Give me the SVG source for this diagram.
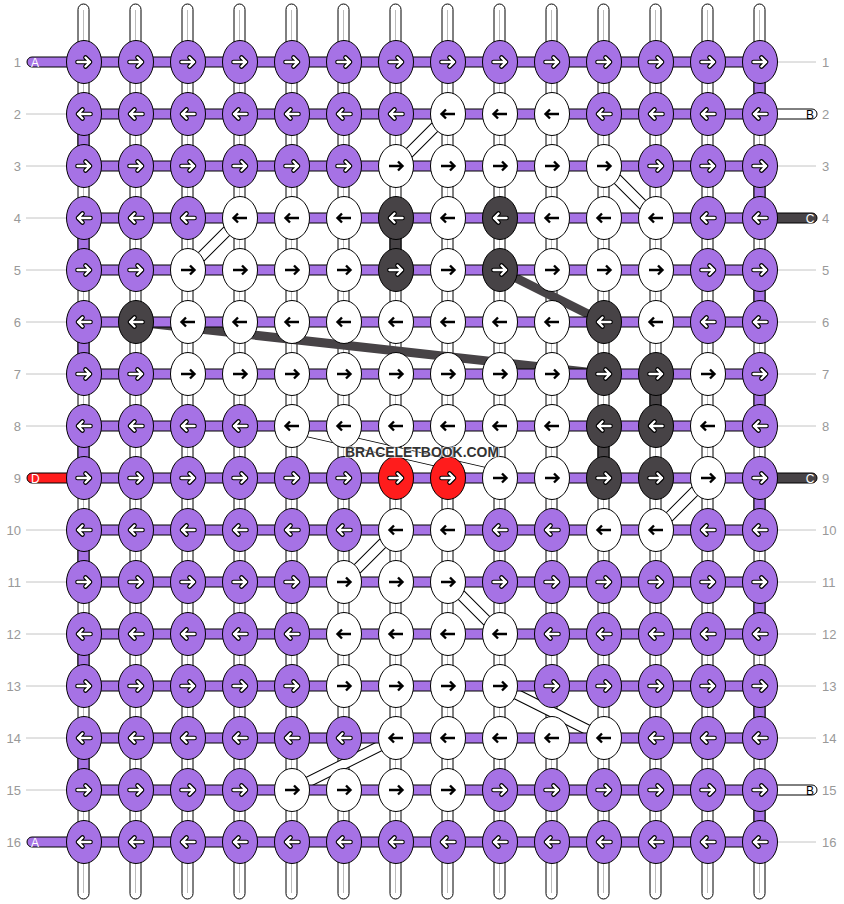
<svg xmlns="http://www.w3.org/2000/svg" width="844" height="904" viewBox="0 0 844 904">
<style>
.vs{fill:#fff;stroke:#000;stroke-width:1}
.vc{stroke:#bbb;stroke-width:1}
.hb{fill:#a672e5;stroke:#000;stroke-width:1}
.wp{fill:#a672e5;stroke:#000;stroke-width:1}
.wk{fill:#474346;stroke:#000;stroke-width:1}
.bo{stroke:#000;stroke-width:11;fill:none}
.bi{stroke:#fff;stroke-width:9;fill:none}
.dk{stroke:#474346;stroke-width:9;fill:none}
ellipse{stroke:#000;stroke-width:1}
.P{fill:#a672e5}.W{fill:#fff}.K{fill:#474346}.R{fill:#ff1c1c}
.ao{stroke:#000;stroke-width:4.6;fill:none;stroke-linecap:round;stroke-linejoin:round}
.ai{stroke:#fff;stroke-width:2.4;fill:none;stroke-linecap:round;stroke-linejoin:round}
.ab{stroke:#000;stroke-width:2.4;fill:none;stroke-linejoin:miter}
.num{font-family:"Liberation Sans",Arial,sans-serif;font-size:13px;fill:#999}
.gl{stroke:#c4c4c4;stroke-width:1}
.lab{font-family:"Liberation Sans",Arial,sans-serif;font-size:12px}
</style>
<defs>
<g id="wr"><path class="ao" d="M-6.5,0H6M1.5,-4.5L6,0L1.5,4.5"/><path class="ai" d="M-6.5,0H6M1.5,-4.5L6,0L1.5,4.5"/></g>
<g id="wl"><path class="ao" d="M6.5,0H-6M-1.5,-4.5L-6,0L-1.5,4.5"/><path class="ai" d="M6.5,0H-6M-1.5,-4.5L-6,0L-1.5,4.5"/></g>
<path id="br" class="ab" d="M-7,0H6.5M2,-4.5L6.5,0L2,4.5"/>
<path id="bl" class="ab" d="M7,0H-6.5M-2,-4.5L-6.5,0L-2,4.5"/>
</defs>
<rect width="844" height="904" fill="#fff"/>
<g id="vertical-strings">
<rect class="vs" x="78" y="4" width="11" height="895" rx="5.5"/><line class="vc" x1="83.5" y1="10" x2="83.5" y2="893"/>
<rect class="vs" x="130" y="4" width="11" height="895" rx="5.5"/><line class="vc" x1="135.5" y1="10" x2="135.5" y2="893"/>
<rect class="vs" x="182" y="4" width="11" height="895" rx="5.5"/><line class="vc" x1="187.5" y1="10" x2="187.5" y2="893"/>
<rect class="vs" x="234" y="4" width="11" height="895" rx="5.5"/><line class="vc" x1="239.5" y1="10" x2="239.5" y2="893"/>
<rect class="vs" x="286" y="4" width="11" height="895" rx="5.5"/><line class="vc" x1="291.5" y1="10" x2="291.5" y2="893"/>
<rect class="vs" x="338" y="4" width="11" height="895" rx="5.5"/><line class="vc" x1="343.5" y1="10" x2="343.5" y2="893"/>
<rect class="vs" x="390" y="4" width="11" height="895" rx="5.5"/><line class="vc" x1="395.5" y1="10" x2="395.5" y2="893"/>
<rect class="vs" x="442" y="4" width="11" height="895" rx="5.5"/><line class="vc" x1="447.5" y1="10" x2="447.5" y2="893"/>
<rect class="vs" x="494" y="4" width="11" height="895" rx="5.5"/><line class="vc" x1="499.5" y1="10" x2="499.5" y2="893"/>
<rect class="vs" x="546" y="4" width="11" height="895" rx="5.5"/><line class="vc" x1="551.5" y1="10" x2="551.5" y2="893"/>
<rect class="vs" x="598" y="4" width="11" height="895" rx="5.5"/><line class="vc" x1="603.5" y1="10" x2="603.5" y2="893"/>
<rect class="vs" x="650" y="4" width="11" height="895" rx="5.5"/><line class="vc" x1="655.5" y1="10" x2="655.5" y2="893"/>
<rect class="vs" x="702" y="4" width="11" height="895" rx="5.5"/><line class="vc" x1="707.5" y1="10" x2="707.5" y2="893"/>
<rect class="vs" x="754" y="4" width="11" height="895" rx="5.5"/><line class="vc" x1="759.5" y1="10" x2="759.5" y2="893"/>
</g>
<g id="connectors">
<g id="white-links">
<path class="bo" d="M448,114L396,166M604,166L656,218M240,218L188,270M300,430L492,474M708,478L656,530M396,530L344,582M448,582L500,634M500,686L604,738M396,738L292,790"/>
<path class="bi" d="M448,114L396,166M604,166L656,218M240,218L188,270M300,430L492,474M708,478L656,530M396,530L344,582M448,582L500,634M500,686L604,738M396,738L292,790"/>
</g>
<path id="dark-links" class="dk" d="M500,270L604,322M136,322L604,374"/>
<g id="row-strings">
<rect class="hb" x="84" y="57" width="676" height="10"/>
<rect class="hb" x="84" y="109" width="676" height="10"/>
<rect class="hb" x="84" y="161" width="676" height="10"/>
<rect class="hb" x="84" y="213" width="676" height="10"/>
<rect class="hb" x="84" y="265" width="676" height="10"/>
<rect class="hb" x="84" y="317" width="676" height="10"/>
<rect class="hb" x="84" y="369" width="676" height="10"/>
<rect class="hb" x="84" y="421" width="676" height="10"/>
<rect class="hb" x="84" y="473" width="676" height="10"/>
<rect class="hb" x="84" y="525" width="676" height="10"/>
<rect class="hb" x="84" y="577" width="676" height="10"/>
<rect class="hb" x="84" y="629" width="676" height="10"/>
<rect class="hb" x="84" y="681" width="676" height="10"/>
<rect class="hb" x="84" y="733" width="676" height="10"/>
<rect class="hb" x="84" y="785" width="676" height="10"/>
<rect class="hb" x="84" y="837" width="676" height="10"/>
</g>
<g id="turns">
<rect class="wp" x="754" y="62" width="11" height="52"/>
<rect class="wp" x="754" y="166" width="11" height="52"/>
<rect class="wp" x="754" y="270" width="11" height="52"/>
<rect class="wp" x="754" y="374" width="11" height="52"/>
<rect class="wp" x="754" y="478" width="11" height="52"/>
<rect class="wp" x="754" y="582" width="11" height="52"/>
<rect class="wp" x="754" y="686" width="11" height="52"/>
<rect class="wp" x="754" y="790" width="11" height="52"/>
<rect class="wp" x="78" y="114" width="11" height="52"/>
<rect class="wp" x="78" y="218" width="11" height="52"/>
<rect class="wp" x="78" y="322" width="11" height="52"/>
<rect class="wp" x="78" y="426" width="11" height="52"/>
<rect class="wp" x="78" y="530" width="11" height="52"/>
<rect class="wp" x="78" y="634" width="11" height="52"/>
<rect class="wp" x="78" y="738" width="11" height="52"/>
<rect class="wk" x="390" y="218" width="11" height="52"/>
<rect class="wk" x="650" y="374" width="11" height="52"/>
<rect class="wk" x="598" y="426" width="11" height="52"/>
</g>
<g id="ends">
<path d="M70,57H32a5,5 0 0 0 0,10H70z" fill="#a672e5" stroke="#000"/>
<path d="M70,473H32a5,5 0 0 0 0,10H70z" fill="#ff1c1c" stroke="#000"/>
<path d="M70,837H32a5,5 0 0 0 0,10H70z" fill="#a672e5" stroke="#000"/>
<path d="M774,109H812a5,5 0 0 1 0,10H774z" fill="#fff" stroke="#000"/>
<path d="M774,213H812a5,5 0 0 1 0,10H774z" fill="#474346" stroke="#000"/>
<path d="M774,473H812a5,5 0 0 1 0,10H774z" fill="#474346" stroke="#000"/>
<path d="M774,785H812a5,5 0 0 1 0,10H774z" fill="#fff" stroke="#000"/>
<text class="lab" x="31" y="66.5" fill="#fff">A</text>
<text class="lab" x="31" y="482.5" fill="#fff">D</text>
<text class="lab" x="31" y="846.5" fill="#fff">A</text>
<text class="lab" x="810" y="118.5" text-anchor="middle" fill="#000">B</text>
<text class="lab" x="810" y="222.5" text-anchor="middle" fill="#fff">C</text>
<text class="lab" x="810" y="482.5" text-anchor="middle" fill="#fff">C</text>
<text class="lab" x="810" y="794.5" text-anchor="middle" fill="#000">B</text>
</g>
</g>
<g id="row-labels">
<path class="gl" d="M26,114H66M26,166H66M26,218H66M26,270H66M26,322H66M26,374H66M26,426H66M26,530H66M26,582H66M26,634H66M26,686H66M26,738H66M26,790H66"/>
<path class="gl" d="M778,62H816M778,166H816M778,270H816M778,322H816M778,374H816M778,426H816M778,530H816M778,582H816M778,634H816M778,686H816M778,738H816M778,842H816"/>
<g class="num" text-anchor="end">
<text x="21" y="67">1</text><text x="21" y="119">2</text><text x="21" y="171">3</text><text x="21" y="223">4</text><text x="21" y="275">5</text><text x="21" y="327">6</text><text x="21" y="379">7</text><text x="21" y="431">8</text><text x="21" y="483">9</text><text x="21" y="535">10</text><text x="21" y="587">11</text><text x="21" y="639">12</text><text x="21" y="691">13</text><text x="21" y="743">14</text><text x="21" y="795">15</text><text x="21" y="847">16</text>
</g>
<g class="num">
<text x="822" y="67">1</text><text x="822" y="119">2</text><text x="822" y="171">3</text><text x="822" y="223">4</text><text x="822" y="275">5</text><text x="822" y="327">6</text><text x="822" y="379">7</text><text x="822" y="431">8</text><text x="822" y="483">9</text><text x="822" y="535">10</text><text x="822" y="587">11</text><text x="822" y="639">12</text><text x="822" y="691">13</text><text x="822" y="743">14</text><text x="822" y="795">15</text><text x="822" y="847">16</text>
</g>
</g>
<g id="nodes">
<g id="n1-1"><ellipse class="P" cx="84" cy="62" rx="17.5" ry="21.5"/><use href="#wr" x="84" y="62"/></g>
<g id="n1-2"><ellipse class="P" cx="136" cy="62" rx="17.5" ry="21.5"/><use href="#wr" x="136" y="62"/></g>
<g id="n1-3"><ellipse class="P" cx="188" cy="62" rx="17.5" ry="21.5"/><use href="#wr" x="188" y="62"/></g>
<g id="n1-4"><ellipse class="P" cx="240" cy="62" rx="17.5" ry="21.5"/><use href="#wr" x="240" y="62"/></g>
<g id="n1-5"><ellipse class="P" cx="292" cy="62" rx="17.5" ry="21.5"/><use href="#wr" x="292" y="62"/></g>
<g id="n1-6"><ellipse class="P" cx="344" cy="62" rx="17.5" ry="21.5"/><use href="#wr" x="344" y="62"/></g>
<g id="n1-7"><ellipse class="P" cx="396" cy="62" rx="17.5" ry="21.5"/><use href="#wr" x="396" y="62"/></g>
<g id="n1-8"><ellipse class="P" cx="448" cy="62" rx="17.5" ry="21.5"/><use href="#wr" x="448" y="62"/></g>
<g id="n1-9"><ellipse class="P" cx="500" cy="62" rx="17.5" ry="21.5"/><use href="#wr" x="500" y="62"/></g>
<g id="n1-10"><ellipse class="P" cx="552" cy="62" rx="17.5" ry="21.5"/><use href="#wr" x="552" y="62"/></g>
<g id="n1-11"><ellipse class="P" cx="604" cy="62" rx="17.5" ry="21.5"/><use href="#wr" x="604" y="62"/></g>
<g id="n1-12"><ellipse class="P" cx="656" cy="62" rx="17.5" ry="21.5"/><use href="#wr" x="656" y="62"/></g>
<g id="n1-13"><ellipse class="P" cx="708" cy="62" rx="17.5" ry="21.5"/><use href="#wr" x="708" y="62"/></g>
<g id="n1-14"><ellipse class="P" cx="760" cy="62" rx="17.5" ry="21.5"/><use href="#wr" x="760" y="62"/></g>

<g id="n2-1"><ellipse class="P" cx="84" cy="114" rx="17.5" ry="21.5"/><use href="#wl" x="84" y="114"/></g>
<g id="n2-2"><ellipse class="P" cx="136" cy="114" rx="17.5" ry="21.5"/><use href="#wl" x="136" y="114"/></g>
<g id="n2-3"><ellipse class="P" cx="188" cy="114" rx="17.5" ry="21.5"/><use href="#wl" x="188" y="114"/></g>
<g id="n2-4"><ellipse class="P" cx="240" cy="114" rx="17.5" ry="21.5"/><use href="#wl" x="240" y="114"/></g>
<g id="n2-5"><ellipse class="P" cx="292" cy="114" rx="17.5" ry="21.5"/><use href="#wl" x="292" y="114"/></g>
<g id="n2-6"><ellipse class="P" cx="344" cy="114" rx="17.5" ry="21.5"/><use href="#wl" x="344" y="114"/></g>
<g id="n2-7"><ellipse class="P" cx="396" cy="114" rx="17.5" ry="21.5"/><use href="#wl" x="396" y="114"/></g>
<g id="n2-8"><ellipse class="W" cx="448" cy="114" rx="17.5" ry="21.5"/><use href="#bl" x="448" y="114"/></g>
<g id="n2-9"><ellipse class="W" cx="500" cy="114" rx="17.5" ry="21.5"/><use href="#bl" x="500" y="114"/></g>
<g id="n2-10"><ellipse class="W" cx="552" cy="114" rx="17.5" ry="21.5"/><use href="#bl" x="552" y="114"/></g>
<g id="n2-11"><ellipse class="P" cx="604" cy="114" rx="17.5" ry="21.5"/><use href="#wl" x="604" y="114"/></g>
<g id="n2-12"><ellipse class="P" cx="656" cy="114" rx="17.5" ry="21.5"/><use href="#wl" x="656" y="114"/></g>
<g id="n2-13"><ellipse class="P" cx="708" cy="114" rx="17.5" ry="21.5"/><use href="#wl" x="708" y="114"/></g>
<g id="n2-14"><ellipse class="P" cx="760" cy="114" rx="17.5" ry="21.5"/><use href="#wl" x="760" y="114"/></g>

<g id="n3-1"><ellipse class="P" cx="84" cy="166" rx="17.5" ry="21.5"/><use href="#wr" x="84" y="166"/></g>
<g id="n3-2"><ellipse class="P" cx="136" cy="166" rx="17.5" ry="21.5"/><use href="#wr" x="136" y="166"/></g>
<g id="n3-3"><ellipse class="P" cx="188" cy="166" rx="17.5" ry="21.5"/><use href="#wr" x="188" y="166"/></g>
<g id="n3-4"><ellipse class="P" cx="240" cy="166" rx="17.5" ry="21.5"/><use href="#wr" x="240" y="166"/></g>
<g id="n3-5"><ellipse class="P" cx="292" cy="166" rx="17.5" ry="21.5"/><use href="#wr" x="292" y="166"/></g>
<g id="n3-6"><ellipse class="P" cx="344" cy="166" rx="17.5" ry="21.5"/><use href="#wr" x="344" y="166"/></g>
<g id="n3-7"><ellipse class="W" cx="396" cy="166" rx="17.5" ry="21.5"/><use href="#br" x="396" y="166"/></g>
<g id="n3-8"><ellipse class="W" cx="448" cy="166" rx="17.5" ry="21.5"/><use href="#br" x="448" y="166"/></g>
<g id="n3-9"><ellipse class="W" cx="500" cy="166" rx="17.5" ry="21.5"/><use href="#br" x="500" y="166"/></g>
<g id="n3-10"><ellipse class="W" cx="552" cy="166" rx="17.5" ry="21.5"/><use href="#br" x="552" y="166"/></g>
<g id="n3-11"><ellipse class="W" cx="604" cy="166" rx="17.5" ry="21.5"/><use href="#br" x="604" y="166"/></g>
<g id="n3-12"><ellipse class="P" cx="656" cy="166" rx="17.5" ry="21.5"/><use href="#wr" x="656" y="166"/></g>
<g id="n3-13"><ellipse class="P" cx="708" cy="166" rx="17.5" ry="21.5"/><use href="#wr" x="708" y="166"/></g>
<g id="n3-14"><ellipse class="P" cx="760" cy="166" rx="17.5" ry="21.5"/><use href="#wr" x="760" y="166"/></g>

<g id="n4-1"><ellipse class="P" cx="84" cy="218" rx="17.5" ry="21.5"/><use href="#wl" x="84" y="218"/></g>
<g id="n4-2"><ellipse class="P" cx="136" cy="218" rx="17.5" ry="21.5"/><use href="#wl" x="136" y="218"/></g>
<g id="n4-3"><ellipse class="P" cx="188" cy="218" rx="17.5" ry="21.5"/><use href="#wl" x="188" y="218"/></g>
<g id="n4-4"><ellipse class="W" cx="240" cy="218" rx="17.5" ry="21.5"/><use href="#bl" x="240" y="218"/></g>
<g id="n4-5"><ellipse class="W" cx="292" cy="218" rx="17.5" ry="21.5"/><use href="#bl" x="292" y="218"/></g>
<g id="n4-6"><ellipse class="W" cx="344" cy="218" rx="17.5" ry="21.5"/><use href="#bl" x="344" y="218"/></g>
<g id="n4-7"><ellipse class="K" cx="396" cy="218" rx="17.5" ry="21.5"/><use href="#wl" x="396" y="218"/></g>
<g id="n4-8"><ellipse class="W" cx="448" cy="218" rx="17.5" ry="21.5"/><use href="#bl" x="448" y="218"/></g>
<g id="n4-9"><ellipse class="K" cx="500" cy="218" rx="17.5" ry="21.5"/><use href="#wl" x="500" y="218"/></g>
<g id="n4-10"><ellipse class="W" cx="552" cy="218" rx="17.5" ry="21.5"/><use href="#bl" x="552" y="218"/></g>
<g id="n4-11"><ellipse class="W" cx="604" cy="218" rx="17.5" ry="21.5"/><use href="#bl" x="604" y="218"/></g>
<g id="n4-12"><ellipse class="W" cx="656" cy="218" rx="17.5" ry="21.5"/><use href="#bl" x="656" y="218"/></g>
<g id="n4-13"><ellipse class="P" cx="708" cy="218" rx="17.5" ry="21.5"/><use href="#wl" x="708" y="218"/></g>
<g id="n4-14"><ellipse class="P" cx="760" cy="218" rx="17.5" ry="21.5"/><use href="#wl" x="760" y="218"/></g>

<g id="n5-1"><ellipse class="P" cx="84" cy="270" rx="17.5" ry="21.5"/><use href="#wr" x="84" y="270"/></g>
<g id="n5-2"><ellipse class="P" cx="136" cy="270" rx="17.5" ry="21.5"/><use href="#wr" x="136" y="270"/></g>
<g id="n5-3"><ellipse class="W" cx="188" cy="270" rx="17.5" ry="21.5"/><use href="#br" x="188" y="270"/></g>
<g id="n5-4"><ellipse class="W" cx="240" cy="270" rx="17.5" ry="21.5"/><use href="#br" x="240" y="270"/></g>
<g id="n5-5"><ellipse class="W" cx="292" cy="270" rx="17.5" ry="21.5"/><use href="#br" x="292" y="270"/></g>
<g id="n5-6"><ellipse class="W" cx="344" cy="270" rx="17.5" ry="21.5"/><use href="#br" x="344" y="270"/></g>
<g id="n5-7"><ellipse class="K" cx="396" cy="270" rx="17.5" ry="21.5"/><use href="#wr" x="396" y="270"/></g>
<g id="n5-8"><ellipse class="W" cx="448" cy="270" rx="17.5" ry="21.5"/><use href="#br" x="448" y="270"/></g>
<g id="n5-9"><ellipse class="K" cx="500" cy="270" rx="17.5" ry="21.5"/><use href="#wr" x="500" y="270"/></g>
<g id="n5-10"><ellipse class="W" cx="552" cy="270" rx="17.5" ry="21.5"/><use href="#br" x="552" y="270"/></g>
<g id="n5-11"><ellipse class="W" cx="604" cy="270" rx="17.5" ry="21.5"/><use href="#br" x="604" y="270"/></g>
<g id="n5-12"><ellipse class="W" cx="656" cy="270" rx="17.5" ry="21.5"/><use href="#br" x="656" y="270"/></g>
<g id="n5-13"><ellipse class="P" cx="708" cy="270" rx="17.5" ry="21.5"/><use href="#wr" x="708" y="270"/></g>
<g id="n5-14"><ellipse class="P" cx="760" cy="270" rx="17.5" ry="21.5"/><use href="#wr" x="760" y="270"/></g>

<g id="n6-1"><ellipse class="P" cx="84" cy="322" rx="17.5" ry="21.5"/><use href="#wl" x="84" y="322"/></g>
<g id="n6-2"><ellipse class="K" cx="136" cy="322" rx="17.5" ry="21.5"/><use href="#wl" x="136" y="322"/></g>
<g id="n6-3"><ellipse class="W" cx="188" cy="322" rx="17.5" ry="21.5"/><use href="#bl" x="188" y="322"/></g>
<g id="n6-4"><ellipse class="W" cx="240" cy="322" rx="17.5" ry="21.5"/><use href="#bl" x="240" y="322"/></g>
<g id="n6-5"><ellipse class="W" cx="292" cy="322" rx="17.5" ry="21.5"/><use href="#bl" x="292" y="322"/></g>
<g id="n6-6"><ellipse class="W" cx="344" cy="322" rx="17.5" ry="21.5"/><use href="#bl" x="344" y="322"/></g>
<g id="n6-7"><ellipse class="W" cx="396" cy="322" rx="17.5" ry="21.5"/><use href="#bl" x="396" y="322"/></g>
<g id="n6-8"><ellipse class="W" cx="448" cy="322" rx="17.5" ry="21.5"/><use href="#bl" x="448" y="322"/></g>
<g id="n6-9"><ellipse class="W" cx="500" cy="322" rx="17.5" ry="21.5"/><use href="#bl" x="500" y="322"/></g>
<g id="n6-10"><ellipse class="W" cx="552" cy="322" rx="17.5" ry="21.5"/><use href="#bl" x="552" y="322"/></g>
<g id="n6-11"><ellipse class="K" cx="604" cy="322" rx="17.5" ry="21.5"/><use href="#wl" x="604" y="322"/></g>
<g id="n6-12"><ellipse class="W" cx="656" cy="322" rx="17.5" ry="21.5"/><use href="#bl" x="656" y="322"/></g>
<g id="n6-13"><ellipse class="P" cx="708" cy="322" rx="17.5" ry="21.5"/><use href="#wl" x="708" y="322"/></g>
<g id="n6-14"><ellipse class="P" cx="760" cy="322" rx="17.5" ry="21.5"/><use href="#wl" x="760" y="322"/></g>

<g id="n7-1"><ellipse class="P" cx="84" cy="374" rx="17.5" ry="21.5"/><use href="#wr" x="84" y="374"/></g>
<g id="n7-2"><ellipse class="P" cx="136" cy="374" rx="17.5" ry="21.5"/><use href="#wr" x="136" y="374"/></g>
<g id="n7-3"><ellipse class="W" cx="188" cy="374" rx="17.5" ry="21.5"/><use href="#br" x="188" y="374"/></g>
<g id="n7-4"><ellipse class="W" cx="240" cy="374" rx="17.5" ry="21.5"/><use href="#br" x="240" y="374"/></g>
<g id="n7-5"><ellipse class="W" cx="292" cy="374" rx="17.5" ry="21.5"/><use href="#br" x="292" y="374"/></g>
<g id="n7-6"><ellipse class="W" cx="344" cy="374" rx="17.5" ry="21.5"/><use href="#br" x="344" y="374"/></g>
<g id="n7-7"><ellipse class="W" cx="396" cy="374" rx="17.5" ry="21.5"/><use href="#br" x="396" y="374"/></g>
<g id="n7-8"><ellipse class="W" cx="448" cy="374" rx="17.5" ry="21.5"/><use href="#br" x="448" y="374"/></g>
<g id="n7-9"><ellipse class="W" cx="500" cy="374" rx="17.5" ry="21.5"/><use href="#br" x="500" y="374"/></g>
<g id="n7-10"><ellipse class="W" cx="552" cy="374" rx="17.5" ry="21.5"/><use href="#br" x="552" y="374"/></g>
<g id="n7-11"><ellipse class="K" cx="604" cy="374" rx="17.5" ry="21.5"/><use href="#wr" x="604" y="374"/></g>
<g id="n7-12"><ellipse class="K" cx="656" cy="374" rx="17.5" ry="21.5"/><use href="#wr" x="656" y="374"/></g>
<g id="n7-13"><ellipse class="W" cx="708" cy="374" rx="17.5" ry="21.5"/><use href="#br" x="708" y="374"/></g>
<g id="n7-14"><ellipse class="P" cx="760" cy="374" rx="17.5" ry="21.5"/><use href="#wr" x="760" y="374"/></g>

<g id="n8-1"><ellipse class="P" cx="84" cy="426" rx="17.5" ry="21.5"/><use href="#wl" x="84" y="426"/></g>
<g id="n8-2"><ellipse class="P" cx="136" cy="426" rx="17.5" ry="21.5"/><use href="#wl" x="136" y="426"/></g>
<g id="n8-3"><ellipse class="P" cx="188" cy="426" rx="17.5" ry="21.5"/><use href="#wl" x="188" y="426"/></g>
<g id="n8-4"><ellipse class="P" cx="240" cy="426" rx="17.5" ry="21.5"/><use href="#wl" x="240" y="426"/></g>
<g id="n8-5"><ellipse class="W" cx="292" cy="426" rx="17.5" ry="21.5"/><use href="#bl" x="292" y="426"/></g>
<g id="n8-6"><ellipse class="W" cx="344" cy="426" rx="17.5" ry="21.5"/><use href="#bl" x="344" y="426"/></g>
<g id="n8-7"><ellipse class="W" cx="396" cy="426" rx="17.5" ry="21.5"/><use href="#bl" x="396" y="426"/></g>
<g id="n8-8"><ellipse class="W" cx="448" cy="426" rx="17.5" ry="21.5"/><use href="#bl" x="448" y="426"/></g>
<g id="n8-9"><ellipse class="W" cx="500" cy="426" rx="17.5" ry="21.5"/><use href="#bl" x="500" y="426"/></g>
<g id="n8-10"><ellipse class="W" cx="552" cy="426" rx="17.5" ry="21.5"/><use href="#bl" x="552" y="426"/></g>
<g id="n8-11"><ellipse class="K" cx="604" cy="426" rx="17.5" ry="21.5"/><use href="#wl" x="604" y="426"/></g>
<g id="n8-12"><ellipse class="K" cx="656" cy="426" rx="17.5" ry="21.5"/><use href="#wl" x="656" y="426"/></g>
<g id="n8-13"><ellipse class="W" cx="708" cy="426" rx="17.5" ry="21.5"/><use href="#bl" x="708" y="426"/></g>
<g id="n8-14"><ellipse class="P" cx="760" cy="426" rx="17.5" ry="21.5"/><use href="#wl" x="760" y="426"/></g>

<g id="n9-1"><ellipse class="P" cx="84" cy="478" rx="17.5" ry="21.5"/><use href="#wr" x="84" y="478"/></g>
<g id="n9-2"><ellipse class="P" cx="136" cy="478" rx="17.5" ry="21.5"/><use href="#wr" x="136" y="478"/></g>
<g id="n9-3"><ellipse class="P" cx="188" cy="478" rx="17.5" ry="21.5"/><use href="#wr" x="188" y="478"/></g>
<g id="n9-4"><ellipse class="P" cx="240" cy="478" rx="17.5" ry="21.5"/><use href="#wr" x="240" y="478"/></g>
<g id="n9-5"><ellipse class="P" cx="292" cy="478" rx="17.5" ry="21.5"/><use href="#wr" x="292" y="478"/></g>
<g id="n9-6"><ellipse class="P" cx="344" cy="478" rx="17.5" ry="21.5"/><use href="#wr" x="344" y="478"/></g>
<g id="n9-7"><ellipse class="R" cx="396" cy="478" rx="17.5" ry="21.5"/><use href="#wr" x="396" y="478"/></g>
<g id="n9-8"><ellipse class="R" cx="448" cy="478" rx="17.5" ry="21.5"/><use href="#wr" x="448" y="478"/></g>
<g id="n9-9"><ellipse class="W" cx="500" cy="478" rx="17.5" ry="21.5"/><use href="#br" x="500" y="478"/></g>
<g id="n9-10"><ellipse class="W" cx="552" cy="478" rx="17.5" ry="21.5"/><use href="#br" x="552" y="478"/></g>
<g id="n9-11"><ellipse class="K" cx="604" cy="478" rx="17.5" ry="21.5"/><use href="#wr" x="604" y="478"/></g>
<g id="n9-12"><ellipse class="K" cx="656" cy="478" rx="17.5" ry="21.5"/><use href="#wr" x="656" y="478"/></g>
<g id="n9-13"><ellipse class="W" cx="708" cy="478" rx="17.5" ry="21.5"/><use href="#br" x="708" y="478"/></g>
<g id="n9-14"><ellipse class="P" cx="760" cy="478" rx="17.5" ry="21.5"/><use href="#wr" x="760" y="478"/></g>

<g id="n10-1"><ellipse class="P" cx="84" cy="530" rx="17.5" ry="21.5"/><use href="#wl" x="84" y="530"/></g>
<g id="n10-2"><ellipse class="P" cx="136" cy="530" rx="17.5" ry="21.5"/><use href="#wl" x="136" y="530"/></g>
<g id="n10-3"><ellipse class="P" cx="188" cy="530" rx="17.5" ry="21.5"/><use href="#wl" x="188" y="530"/></g>
<g id="n10-4"><ellipse class="P" cx="240" cy="530" rx="17.5" ry="21.5"/><use href="#wl" x="240" y="530"/></g>
<g id="n10-5"><ellipse class="P" cx="292" cy="530" rx="17.5" ry="21.5"/><use href="#wl" x="292" y="530"/></g>
<g id="n10-6"><ellipse class="P" cx="344" cy="530" rx="17.5" ry="21.5"/><use href="#wl" x="344" y="530"/></g>
<g id="n10-7"><ellipse class="W" cx="396" cy="530" rx="17.5" ry="21.5"/><use href="#bl" x="396" y="530"/></g>
<g id="n10-8"><ellipse class="W" cx="448" cy="530" rx="17.5" ry="21.5"/><use href="#bl" x="448" y="530"/></g>
<g id="n10-9"><ellipse class="P" cx="500" cy="530" rx="17.5" ry="21.5"/><use href="#wl" x="500" y="530"/></g>
<g id="n10-10"><ellipse class="P" cx="552" cy="530" rx="17.5" ry="21.5"/><use href="#wl" x="552" y="530"/></g>
<g id="n10-11"><ellipse class="W" cx="604" cy="530" rx="17.5" ry="21.5"/><use href="#bl" x="604" y="530"/></g>
<g id="n10-12"><ellipse class="W" cx="656" cy="530" rx="17.5" ry="21.5"/><use href="#bl" x="656" y="530"/></g>
<g id="n10-13"><ellipse class="P" cx="708" cy="530" rx="17.5" ry="21.5"/><use href="#wl" x="708" y="530"/></g>
<g id="n10-14"><ellipse class="P" cx="760" cy="530" rx="17.5" ry="21.5"/><use href="#wl" x="760" y="530"/></g>

<g id="n11-1"><ellipse class="P" cx="84" cy="582" rx="17.5" ry="21.5"/><use href="#wr" x="84" y="582"/></g>
<g id="n11-2"><ellipse class="P" cx="136" cy="582" rx="17.5" ry="21.5"/><use href="#wr" x="136" y="582"/></g>
<g id="n11-3"><ellipse class="P" cx="188" cy="582" rx="17.5" ry="21.5"/><use href="#wr" x="188" y="582"/></g>
<g id="n11-4"><ellipse class="P" cx="240" cy="582" rx="17.5" ry="21.5"/><use href="#wr" x="240" y="582"/></g>
<g id="n11-5"><ellipse class="P" cx="292" cy="582" rx="17.5" ry="21.5"/><use href="#wr" x="292" y="582"/></g>
<g id="n11-6"><ellipse class="W" cx="344" cy="582" rx="17.5" ry="21.5"/><use href="#br" x="344" y="582"/></g>
<g id="n11-7"><ellipse class="W" cx="396" cy="582" rx="17.5" ry="21.5"/><use href="#br" x="396" y="582"/></g>
<g id="n11-8"><ellipse class="W" cx="448" cy="582" rx="17.5" ry="21.5"/><use href="#br" x="448" y="582"/></g>
<g id="n11-9"><ellipse class="P" cx="500" cy="582" rx="17.5" ry="21.5"/><use href="#wr" x="500" y="582"/></g>
<g id="n11-10"><ellipse class="P" cx="552" cy="582" rx="17.5" ry="21.5"/><use href="#wr" x="552" y="582"/></g>
<g id="n11-11"><ellipse class="P" cx="604" cy="582" rx="17.5" ry="21.5"/><use href="#wr" x="604" y="582"/></g>
<g id="n11-12"><ellipse class="P" cx="656" cy="582" rx="17.5" ry="21.5"/><use href="#wr" x="656" y="582"/></g>
<g id="n11-13"><ellipse class="P" cx="708" cy="582" rx="17.5" ry="21.5"/><use href="#wr" x="708" y="582"/></g>
<g id="n11-14"><ellipse class="P" cx="760" cy="582" rx="17.5" ry="21.5"/><use href="#wr" x="760" y="582"/></g>

<g id="n12-1"><ellipse class="P" cx="84" cy="634" rx="17.5" ry="21.5"/><use href="#wl" x="84" y="634"/></g>
<g id="n12-2"><ellipse class="P" cx="136" cy="634" rx="17.5" ry="21.5"/><use href="#wl" x="136" y="634"/></g>
<g id="n12-3"><ellipse class="P" cx="188" cy="634" rx="17.5" ry="21.5"/><use href="#wl" x="188" y="634"/></g>
<g id="n12-4"><ellipse class="P" cx="240" cy="634" rx="17.5" ry="21.5"/><use href="#wl" x="240" y="634"/></g>
<g id="n12-5"><ellipse class="P" cx="292" cy="634" rx="17.5" ry="21.5"/><use href="#wl" x="292" y="634"/></g>
<g id="n12-6"><ellipse class="W" cx="344" cy="634" rx="17.5" ry="21.5"/><use href="#bl" x="344" y="634"/></g>
<g id="n12-7"><ellipse class="W" cx="396" cy="634" rx="17.5" ry="21.5"/><use href="#bl" x="396" y="634"/></g>
<g id="n12-8"><ellipse class="W" cx="448" cy="634" rx="17.5" ry="21.5"/><use href="#bl" x="448" y="634"/></g>
<g id="n12-9"><ellipse class="W" cx="500" cy="634" rx="17.5" ry="21.5"/><use href="#bl" x="500" y="634"/></g>
<g id="n12-10"><ellipse class="P" cx="552" cy="634" rx="17.5" ry="21.5"/><use href="#wl" x="552" y="634"/></g>
<g id="n12-11"><ellipse class="P" cx="604" cy="634" rx="17.5" ry="21.5"/><use href="#wl" x="604" y="634"/></g>
<g id="n12-12"><ellipse class="P" cx="656" cy="634" rx="17.5" ry="21.5"/><use href="#wl" x="656" y="634"/></g>
<g id="n12-13"><ellipse class="P" cx="708" cy="634" rx="17.5" ry="21.5"/><use href="#wl" x="708" y="634"/></g>
<g id="n12-14"><ellipse class="P" cx="760" cy="634" rx="17.5" ry="21.5"/><use href="#wl" x="760" y="634"/></g>

<g id="n13-1"><ellipse class="P" cx="84" cy="686" rx="17.5" ry="21.5"/><use href="#wr" x="84" y="686"/></g>
<g id="n13-2"><ellipse class="P" cx="136" cy="686" rx="17.5" ry="21.5"/><use href="#wr" x="136" y="686"/></g>
<g id="n13-3"><ellipse class="P" cx="188" cy="686" rx="17.5" ry="21.5"/><use href="#wr" x="188" y="686"/></g>
<g id="n13-4"><ellipse class="P" cx="240" cy="686" rx="17.5" ry="21.5"/><use href="#wr" x="240" y="686"/></g>
<g id="n13-5"><ellipse class="P" cx="292" cy="686" rx="17.5" ry="21.5"/><use href="#wr" x="292" y="686"/></g>
<g id="n13-6"><ellipse class="W" cx="344" cy="686" rx="17.5" ry="21.5"/><use href="#br" x="344" y="686"/></g>
<g id="n13-7"><ellipse class="W" cx="396" cy="686" rx="17.5" ry="21.5"/><use href="#br" x="396" y="686"/></g>
<g id="n13-8"><ellipse class="W" cx="448" cy="686" rx="17.5" ry="21.5"/><use href="#br" x="448" y="686"/></g>
<g id="n13-9"><ellipse class="W" cx="500" cy="686" rx="17.5" ry="21.5"/><use href="#br" x="500" y="686"/></g>
<g id="n13-10"><ellipse class="P" cx="552" cy="686" rx="17.5" ry="21.5"/><use href="#wr" x="552" y="686"/></g>
<g id="n13-11"><ellipse class="P" cx="604" cy="686" rx="17.5" ry="21.5"/><use href="#wr" x="604" y="686"/></g>
<g id="n13-12"><ellipse class="P" cx="656" cy="686" rx="17.5" ry="21.5"/><use href="#wr" x="656" y="686"/></g>
<g id="n13-13"><ellipse class="P" cx="708" cy="686" rx="17.5" ry="21.5"/><use href="#wr" x="708" y="686"/></g>
<g id="n13-14"><ellipse class="P" cx="760" cy="686" rx="17.5" ry="21.5"/><use href="#wr" x="760" y="686"/></g>

<g id="n14-1"><ellipse class="P" cx="84" cy="738" rx="17.5" ry="21.5"/><use href="#wl" x="84" y="738"/></g>
<g id="n14-2"><ellipse class="P" cx="136" cy="738" rx="17.5" ry="21.5"/><use href="#wl" x="136" y="738"/></g>
<g id="n14-3"><ellipse class="P" cx="188" cy="738" rx="17.5" ry="21.5"/><use href="#wl" x="188" y="738"/></g>
<g id="n14-4"><ellipse class="P" cx="240" cy="738" rx="17.5" ry="21.5"/><use href="#wl" x="240" y="738"/></g>
<g id="n14-5"><ellipse class="P" cx="292" cy="738" rx="17.5" ry="21.5"/><use href="#wl" x="292" y="738"/></g>
<g id="n14-6"><ellipse class="P" cx="344" cy="738" rx="17.5" ry="21.5"/><use href="#wl" x="344" y="738"/></g>
<g id="n14-7"><ellipse class="W" cx="396" cy="738" rx="17.5" ry="21.5"/><use href="#bl" x="396" y="738"/></g>
<g id="n14-8"><ellipse class="W" cx="448" cy="738" rx="17.5" ry="21.5"/><use href="#bl" x="448" y="738"/></g>
<g id="n14-9"><ellipse class="W" cx="500" cy="738" rx="17.5" ry="21.5"/><use href="#bl" x="500" y="738"/></g>
<g id="n14-10"><ellipse class="W" cx="552" cy="738" rx="17.5" ry="21.5"/><use href="#bl" x="552" y="738"/></g>
<g id="n14-11"><ellipse class="W" cx="604" cy="738" rx="17.5" ry="21.5"/><use href="#bl" x="604" y="738"/></g>
<g id="n14-12"><ellipse class="P" cx="656" cy="738" rx="17.5" ry="21.5"/><use href="#wl" x="656" y="738"/></g>
<g id="n14-13"><ellipse class="P" cx="708" cy="738" rx="17.5" ry="21.5"/><use href="#wl" x="708" y="738"/></g>
<g id="n14-14"><ellipse class="P" cx="760" cy="738" rx="17.5" ry="21.5"/><use href="#wl" x="760" y="738"/></g>

<g id="n15-1"><ellipse class="P" cx="84" cy="790" rx="17.5" ry="21.5"/><use href="#wr" x="84" y="790"/></g>
<g id="n15-2"><ellipse class="P" cx="136" cy="790" rx="17.5" ry="21.5"/><use href="#wr" x="136" y="790"/></g>
<g id="n15-3"><ellipse class="P" cx="188" cy="790" rx="17.5" ry="21.5"/><use href="#wr" x="188" y="790"/></g>
<g id="n15-4"><ellipse class="P" cx="240" cy="790" rx="17.5" ry="21.5"/><use href="#wr" x="240" y="790"/></g>
<g id="n15-5"><ellipse class="W" cx="292" cy="790" rx="17.5" ry="21.5"/><use href="#br" x="292" y="790"/></g>
<g id="n15-6"><ellipse class="W" cx="344" cy="790" rx="17.5" ry="21.5"/><use href="#br" x="344" y="790"/></g>
<g id="n15-7"><ellipse class="W" cx="396" cy="790" rx="17.5" ry="21.5"/><use href="#br" x="396" y="790"/></g>
<g id="n15-8"><ellipse class="W" cx="448" cy="790" rx="17.5" ry="21.5"/><use href="#br" x="448" y="790"/></g>
<g id="n15-9"><ellipse class="P" cx="500" cy="790" rx="17.5" ry="21.5"/><use href="#wr" x="500" y="790"/></g>
<g id="n15-10"><ellipse class="P" cx="552" cy="790" rx="17.5" ry="21.5"/><use href="#wr" x="552" y="790"/></g>
<g id="n15-11"><ellipse class="P" cx="604" cy="790" rx="17.5" ry="21.5"/><use href="#wr" x="604" y="790"/></g>
<g id="n15-12"><ellipse class="P" cx="656" cy="790" rx="17.5" ry="21.5"/><use href="#wr" x="656" y="790"/></g>
<g id="n15-13"><ellipse class="P" cx="708" cy="790" rx="17.5" ry="21.5"/><use href="#wr" x="708" y="790"/></g>
<g id="n15-14"><ellipse class="P" cx="760" cy="790" rx="17.5" ry="21.5"/><use href="#wr" x="760" y="790"/></g>

<g id="n16-1"><ellipse class="P" cx="84" cy="842" rx="17.5" ry="21.5"/><use href="#wl" x="84" y="842"/></g>
<g id="n16-2"><ellipse class="P" cx="136" cy="842" rx="17.5" ry="21.5"/><use href="#wl" x="136" y="842"/></g>
<g id="n16-3"><ellipse class="P" cx="188" cy="842" rx="17.5" ry="21.5"/><use href="#wl" x="188" y="842"/></g>
<g id="n16-4"><ellipse class="P" cx="240" cy="842" rx="17.5" ry="21.5"/><use href="#wl" x="240" y="842"/></g>
<g id="n16-5"><ellipse class="P" cx="292" cy="842" rx="17.5" ry="21.5"/><use href="#wl" x="292" y="842"/></g>
<g id="n16-6"><ellipse class="P" cx="344" cy="842" rx="17.5" ry="21.5"/><use href="#wl" x="344" y="842"/></g>
<g id="n16-7"><ellipse class="P" cx="396" cy="842" rx="17.5" ry="21.5"/><use href="#wl" x="396" y="842"/></g>
<g id="n16-8"><ellipse class="P" cx="448" cy="842" rx="17.5" ry="21.5"/><use href="#wl" x="448" y="842"/></g>
<g id="n16-9"><ellipse class="P" cx="500" cy="842" rx="17.5" ry="21.5"/><use href="#wl" x="500" y="842"/></g>
<g id="n16-10"><ellipse class="P" cx="552" cy="842" rx="17.5" ry="21.5"/><use href="#wl" x="552" y="842"/></g>
<g id="n16-11"><ellipse class="P" cx="604" cy="842" rx="17.5" ry="21.5"/><use href="#wl" x="604" y="842"/></g>
<g id="n16-12"><ellipse class="P" cx="656" cy="842" rx="17.5" ry="21.5"/><use href="#wl" x="656" y="842"/></g>
<g id="n16-13"><ellipse class="P" cx="708" cy="842" rx="17.5" ry="21.5"/><use href="#wl" x="708" y="842"/></g>
<g id="n16-14"><ellipse class="P" cx="760" cy="842" rx="17.5" ry="21.5"/><use href="#wl" x="760" y="842"/></g>
</g>
<text id="watermark" x="422" y="457" text-anchor="middle" textLength="154" lengthAdjust="spacingAndGlyphs" font-family="'Liberation Sans',Arial,sans-serif" font-size="15" font-weight="bold" fill="#333" stroke="#fff" stroke-opacity="0.6" stroke-width="2" paint-order="stroke">BRACELETBOOK.COM</text>
</svg>
